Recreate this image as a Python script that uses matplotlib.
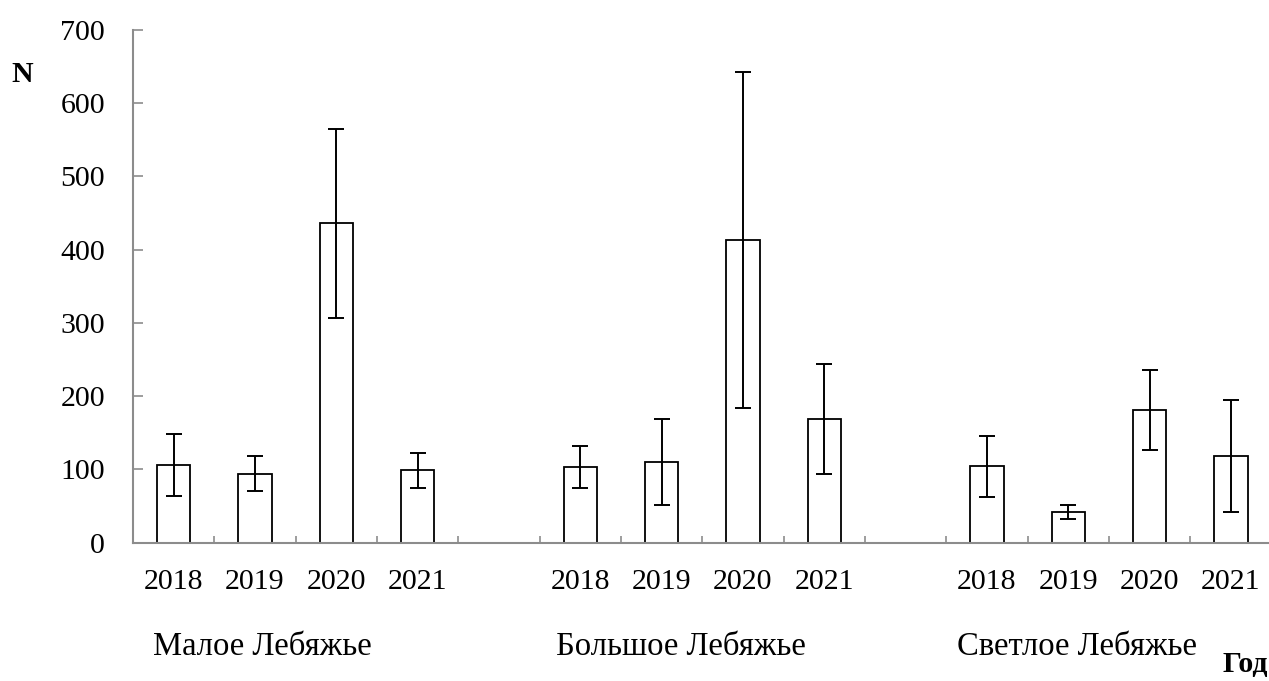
import matplotlib
matplotlib.use("Agg")
import matplotlib.pyplot as plt
import matplotlib.transforms as mtransforms
import numpy as np

plt.rcParams['font.family'] = ['Liberation Serif', 'DejaVu Serif']

lakes = ["Малое Лебяжье", "Большое Лебяжье", "Светлое Лебяжье"]
years = ["2018", "2019", "2020", "2021"]
means = [
    [106, 94, 436, 99],
    [103, 110, 413, 169],
    [104, 42, 181, 118],
]
errors = [
    [42, 24, 129, 24],
    [29, 59, 229, 75],
    [41, 9, 54, 76],
]
yticks = [0, 100, 200, 300, 400, 500, 600, 700]

fig = plt.figure(figsize=(12.69, 6.81), dpi=100)
ax = fig.add_axes([133/1269, 0.2031, 1 - 133/1269 + 0.002, 0.7534])

positions = []
vals = []
errs = []
labels = []
for g in range(len(lakes)):
    for j in range(len(years)):
        positions.append(g * 5 + j)
        vals.append(means[g][j])
        errs.append(errors[g][j])
        labels.append(years[j])

ax.bar(positions, vals, width=0.41, facecolor='white', edgecolor='black', linewidth=1.3, zorder=2)
ax.errorbar(positions, vals, yerr=errs, fmt='none', ecolor='black', elinewidth=1.4,
            capsize=6, capthick=1.4, zorder=3)

ax.set_xlim(-0.5, 13.5)
ax.set_ylim(0, 700)
ax.set_yticks(yticks)
ax.set_xticks(positions)
ax.set_xticklabels(labels)
ax.tick_params(axis='x', which='major', length=0, pad=19, labelsize=21.5)
ax.set_xticks(np.arange(-0.5, 14, 1), minor=True)
ax.tick_params(axis='x', which='minor', direction='in', length=5, width=1.2, color='#8c8c8c')
ax.tick_params(axis='y', direction='in', length=7, width=1.2, color='#8c8c8c', pad=20, labelsize=21.5)

for s in ['top', 'right']:
    ax.spines[s].set_visible(False)
for s in ['left', 'bottom']:
    ax.spines[s].set_color('#8c8c8c')
    ax.spines[s].set_linewidth(1.5)

trans = mtransforms.blended_transform_factory(ax.transData, fig.transFigure)
label_x = [1.09, 6.24, 11.11]
for lx, name in zip(label_x, lakes):
    ax.text(lx, 0.051, name, transform=trans, ha='center', va='center', fontsize=23.5)

fig.text(22/1269, 0.89, "N", ha='center', va='center', fontsize=21.5, fontweight='bold')
fig.text(1245/1269, 0.0235, "Год", ha='center', va='center', fontsize=21.5, fontweight='bold')

fig.savefig("out.png", dpi=100)
